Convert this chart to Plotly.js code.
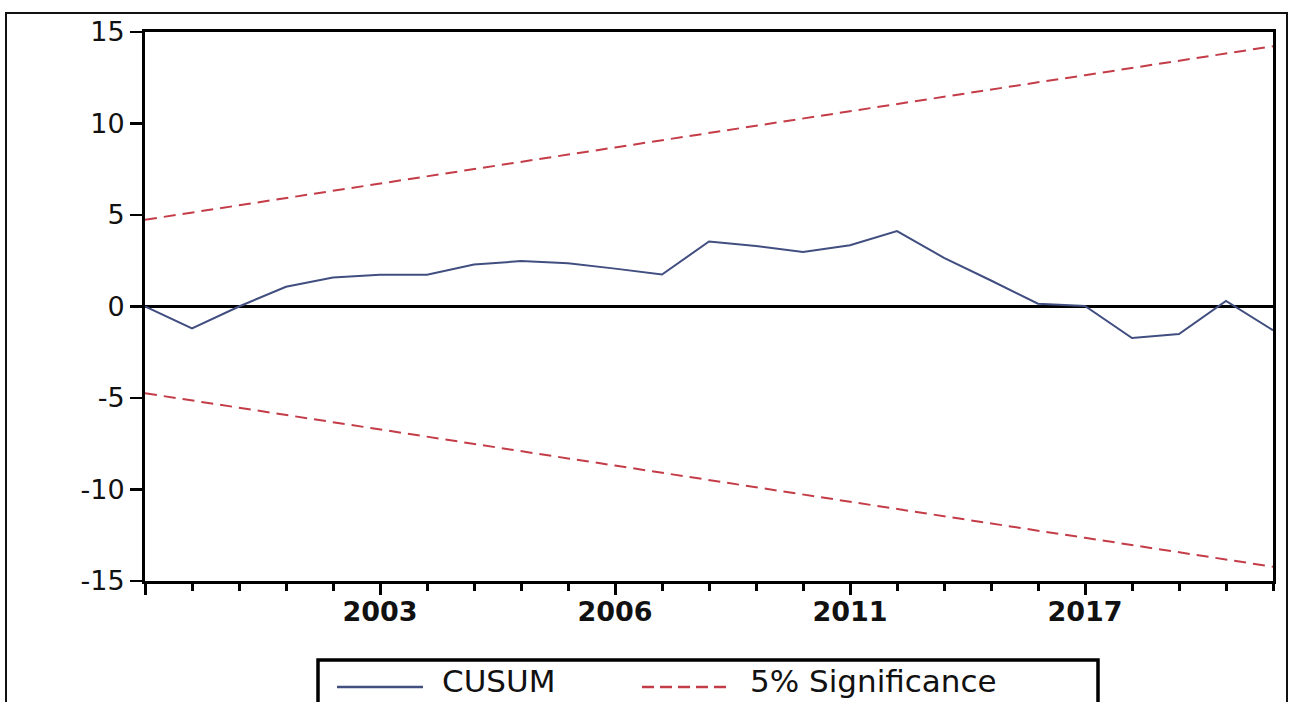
<!DOCTYPE html>
<html><head><meta charset="utf-8">
<script src="https://cdn.plot.ly/plotly-3.0.1.min.js"></script>
<style>
html,body{margin:0;padding:0;background:#fff;overflow:hidden;}
#frame{position:absolute;left:5px;top:12px;width:1283px;height:720px;border:2px solid #111;box-sizing:border-box;}
#chart{position:absolute;left:0;top:0;width:1293px;height:702px;}
</style></head><body>
<div id="frame"></div>
<div id="chart"></div>
<script>
// observation index (25 recursive residuals)
const obsIndex = [0,1,2,3,4,5,6,7,8,9,10,11,12,13,14,15,16,17,18,19,20,21,22,23,24];
// CUSUM statistic
const cusum = [0.0,-1.2,0.0,1.08,1.58,1.74,1.74,2.3,2.48,2.36,2.07,1.75,3.55,3.31,2.98,3.35,4.12,2.66,1.42,0.15,0.03,-1.72,-1.5,0.3,-1.3];
// 5% significance bounds
const upper5 = [4.74,5.14,5.53,5.93,6.32,6.72,7.11,7.51,7.9,8.3,8.69,9.09,9.48,9.88,10.27,10.67,11.06,11.46,11.85,12.25,12.64,13.04,13.43,13.83,14.22];
const lower5 = [-4.74,-5.14,-5.53,-5.93,-6.32,-6.72,-7.11,-7.51,-7.9,-8.3,-8.69,-9.09,-9.48,-9.88,-10.27,-10.67,-11.06,-11.46,-11.85,-12.25,-12.64,-13.04,-13.43,-13.83,-14.22];
// axis ticks
const xTickPos = [0,5,10,15,20];
const xTickText = ["","2003","2006","2011","2017"];
const yTicks = [-15,-10,-5,0,5,10,15];
const yTickText = ["-15","-10","-5","0","5","10","15"];
const legendNames = ["CUSUM","5% Significance"];

const blue = "#414e80";
const red = "#c43c48";
const fam = "DejaVu Sans, Arial, sans-serif";

const traces = [
  {x: obsIndex, y: cusum, type: "scatter", mode: "lines", name: legendNames[0],
   line: {color: blue, width: 2}, showlegend: false},
  {x: obsIndex, y: upper5, type: "scatter", mode: "lines", name: legendNames[1],
   line: {color: red, width: 2, dash: "12px,7px"}, showlegend: false},
  {x: obsIndex, y: lower5, type: "scatter", mode: "lines", name: legendNames[1],
   line: {color: red, width: 2, dash: "12px,7px"}, showlegend: false}
];

// plot area: x 145..1273, y 32..581
const L = 145, R = 1273, T = 32, B = 581;
const px = v => (v - L) / (R - L);
const py = v => (B - v) / (B - T);

const layout = {
  width: 1293, height: 702,
  margin: {l: L, r: 1293 - R, t: T, b: 702 - B, autoexpand: false},
  paper_bgcolor: "rgba(0,0,0,0)",
  plot_bgcolor: "#ffffff",
  font: {family: fam, color: "#111"},
  showlegend: false,
  xaxis: {
    range: [0, 24], showgrid: false, zeroline: false,
    showline: true, mirror: true, linecolor: "#000", linewidth: 3,
    tickmode: "array", tickvals: xTickPos, ticktext: xTickText,
    ticks: "outside", ticklen: 11, tickwidth: 3, tickcolor: "#000",
    ticklabelstandoff: -6,
    tickfont: {family: fam, size: 27, color: "#111", weight: "bold"},
    minor: {tick0: 0, dtick: 1, ticks: "outside", ticklen: 7, tickwidth: 3, tickcolor: "#000", showgrid: false}
  },
  yaxis: {
    range: [-15, 15], showgrid: false,
    zeroline: true, zerolinecolor: "#000", zerolinewidth: 2.5,
    showline: true, mirror: true, linecolor: "#000", linewidth: 3,
    tickmode: "array", tickvals: yTicks, ticktext: yTickText,
    ticks: "outside", ticklen: 12, tickwidth: 2.5, tickcolor: "#000",
    tickfont: {family: fam, size: 27, color: "#111"}
  },
  shapes: [
    {type: "rect", xref: "paper", yref: "paper", x0: px(318), x1: px(1098), y0: py(740), y1: py(660),
     line: {color: "#000", width: 3.5}, fillcolor: "#fff", layer: "above"},
    {type: "line", xref: "paper", yref: "paper", x0: px(337), x1: px(423), y0: py(687), y1: py(687),
     line: {color: blue, width: 2.5}, layer: "above"},
    {type: "line", xref: "paper", yref: "paper", x0: px(642), x1: px(728), y0: py(687), y1: py(687),
     line: {color: red, width: 2.5, dash: "12px,6px"}, layer: "above"}
  ],
  annotations: [
    {xref: "paper", yref: "paper", x: px(440), y: py(681), xanchor: "left", yanchor: "middle",
     text: legendNames[0], showarrow: false, font: {family: fam, size: 31, color: "#111"}},
    {xref: "paper", yref: "paper", x: px(748), y: py(681), xanchor: "left", yanchor: "middle",
     text: legendNames[1], showarrow: false, font: {family: fam, size: 31, color: "#111"}}
  ]
};

Plotly.newPlot("chart", traces, layout, {displayModeBar: false, staticPlot: true});
</script>
</body></html>
